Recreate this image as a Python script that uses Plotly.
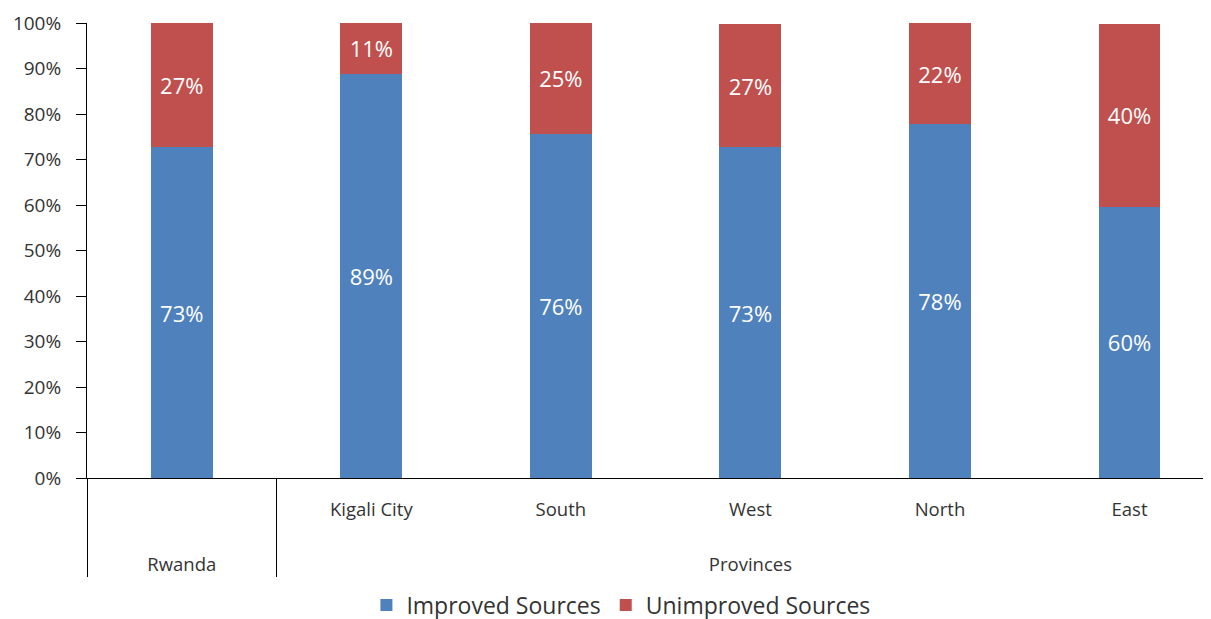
import plotly.graph_objects as go

groups = ["Rwanda", "Provinces", "Provinces", "Provinces", "Provinces", "Provinces"]
regions = [" ", "Kigali City", "South", "West", "North", "East"]
improved = [72.7, 88.8, 75.6, 72.7, 77.8, 59.6]
unimproved = [27.3, 11.2, 24.6, 27.0, 22.2, 40.2]
y_ticks = [0, 10, 20, 30, 40, 50, 60, 70, 80, 90, 100]

BLUE = "#4F81BD"
RED = "#C0504D"
FONT = "Open Sans"

# a tall blank extra line on sub-labels pushes the group row lower, as in the reference
region_labels = [r + "<br><span style='font-size:50px'> </span>" for r in regions]

fig = go.Figure()
for name, vals, col in [("Improved Sources", improved, BLUE),
                        ("Unimproved Sources", unimproved, RED)]:
    fig.add_trace(go.Bar(
        x=[groups, region_labels], y=vals, name=name, marker_color=col,
        marker_line_width=0,
        texttemplate="%{y:.0f}%", textposition="inside",
        insidetextanchor="middle", textangle=0, constraintext="none",
        textfont=dict(color="white", size=22, family=FONT),
    ))

fig.update_layout(
    width=1203, height=611,
    barmode="stack", bargap=0.673,
    margin=dict(l=79, r=0, t=15, b=141, autoexpand=False),
    paper_bgcolor="white", plot_bgcolor="white",
    font=dict(family=FONT, color="#333333", size=18),
    showlegend=True,
    legend=dict(orientation="h", x=0.475, xanchor="center", y=-0.279,
                yanchor="middle", font=dict(size=23, color="#333333"),
                traceorder="normal"),
    yaxis=dict(range=[0, 100], tickmode="array", tickvals=y_ticks,
               ticktext=[f"{v}%" for v in y_ticks],
               ticks="outside", ticklen=10, tickcolor="black",
               ticklabelstandoff=11,
               showline=True, linecolor="black", linewidth=1,
               showgrid=False, zeroline=False, automargin=False,
               tickfont=dict(size=19, family=FONT, color="#333333")),
    xaxis=dict(type="multicategory", range=[-0.5, 5.43],
               showline=True, linecolor="black", linewidth=1,
               showdividers=True, dividercolor="black", dividerwidth=1,
               ticks="", ticklabelstandoff=15,
               showgrid=False, automargin=False,
               tickfont=dict(size=18.5, family=FONT, color="#333333")),
)

fig.write_html("out.html")
